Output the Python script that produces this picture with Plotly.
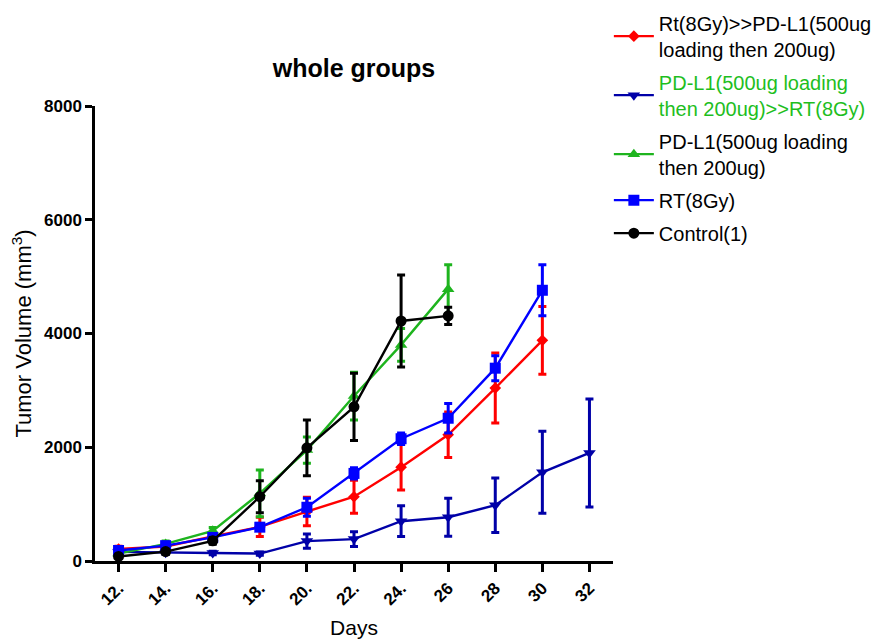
import plotly.graph_objects as go

days = [12, 14, 16, 18, 20, 22, 24, 26, 28, 30, 32]
tick_labels = ["12.", "14.", "16.", "18.", "20.", "22.", "24.", "26", "28", "30", "32"]

red_days = days[:10]
red_vals = [210, 255, 430, 600, 870, 1130, 1650, 2220, 3040, 3880]
red_sem = [50, 40, 60, 170, 250, 290, 400, 400, 615, 595]

navy_days = days
navy_vals = [160, 145, 140, 130, 350, 385, 700, 770, 980, 1560, 1900]
navy_sem = [40, 30, 30, 30, 125, 130, 270, 335, 480, 720, 950]

green_days = days[:8]
green_vals = [130, 300, 530, 1190, 1950, 2900, 3800, 4780]
green_sem = [40, 50, 60, 410, 230, 420, 290, 430]

blue_days = days[:10]
blue_vals = [185, 270, 415, 595, 945, 1540, 2150, 2510, 3390, 4760]
blue_sem = [40, 40, 50, 60, 160, 100, 100, 260, 220, 450]

black_days = days[:8]
black_vals = [80, 165, 355, 1130, 1990, 2710, 4220, 4310]
black_sem = [30, 40, 60, 280, 490, 590, 810, 150]

FONT = "Arial, Liberation Sans, sans-serif"

series = [
    ("Rt(8Gy)>>PD-L1(500ug<br>loading then 200ug)", red_days, red_vals, red_sem, "#FF0000", "diamond", 9),
    ("<span style='color:#1EBE1E'>PD-L1(500ug loading<br>then 200ug)>>RT(8Gy)</span>", navy_days, navy_vals, navy_sem, "#0000A8", "triangle-down", 11),
    ("PD-L1(500ug loading<br>then 200ug)", green_days, green_vals, green_sem, "#1EB41E", "triangle-up", 11),
    ("RT(8Gy)", blue_days, blue_vals, blue_sem, "#0000FF", "square", 11),
    ("Control(1)", black_days, black_vals, black_sem, "#000000", "circle", 11),
]

fig = go.Figure()
for name, x, y, e, c, sym, sz in series:
    fig.add_trace(go.Scatter(
        x=x, y=y, name=name, mode="lines+markers",
        line=dict(color=c, width=2.4),
        marker=dict(color=c, symbol=sym, size=sz),
        error_y=dict(type="data", array=e, visible=True, color=c, thickness=3, width=4),
        legendgroup=name,
    ))

# page has an 8px body margin, so the figure is 8px smaller and margins shifted
W, H = 881, 631
fig.update_layout(
    width=W, height=H,
    margin=dict(l=87, r=276, t=98, b=78, autoexpand=False),
    paper_bgcolor="white", plot_bgcolor="white",
    font=dict(family=FONT, color="black"),
    title=dict(text="<b>whole groups</b>", x=346 / W, xanchor="center",
               y=1 - 60 / H, yanchor="middle", font=dict(size=25, family=FONT)),
    showlegend=True,
    legend=dict(x=0.992, xanchor="left", y=1.225, yanchor="top",
                font=dict(size=20, family=FONT, color="black"),
                tracegroupgap=4, bgcolor="rgba(0,0,0,0)", itemwidth=40),
    xaxis=dict(range=[11, 33], tickmode="array", tickvals=days, ticktext=tick_labels,
               tickangle=-45, showgrid=False, zeroline=False, showline=True,
               linecolor="black", linewidth=2.5, ticks="outside", ticklen=8,
               tickwidth=2.5, tickcolor="black", automargin=False,
               tickfont=dict(size=17, family=FONT, weight="bold"),
               title=dict(text="Days", font=dict(size=21, family=FONT), standoff=14)),
    yaxis=dict(range=[0, 8000], tickvals=[0, 2000, 4000, 6000, 8000],
               showgrid=False, zeroline=False, showline=True,
               linecolor="black", linewidth=2.5, ticks="outside", ticklen=7,
               tickwidth=2.5, tickcolor="black", automargin=False,
               tickfont=dict(size=17, family=FONT, weight="bold"),
               title=dict(text="Tumor Volume (mm<sup>3</sup>)", font=dict(size=22, family=FONT), standoff=13)),
)

fig.write_html("out.html")
